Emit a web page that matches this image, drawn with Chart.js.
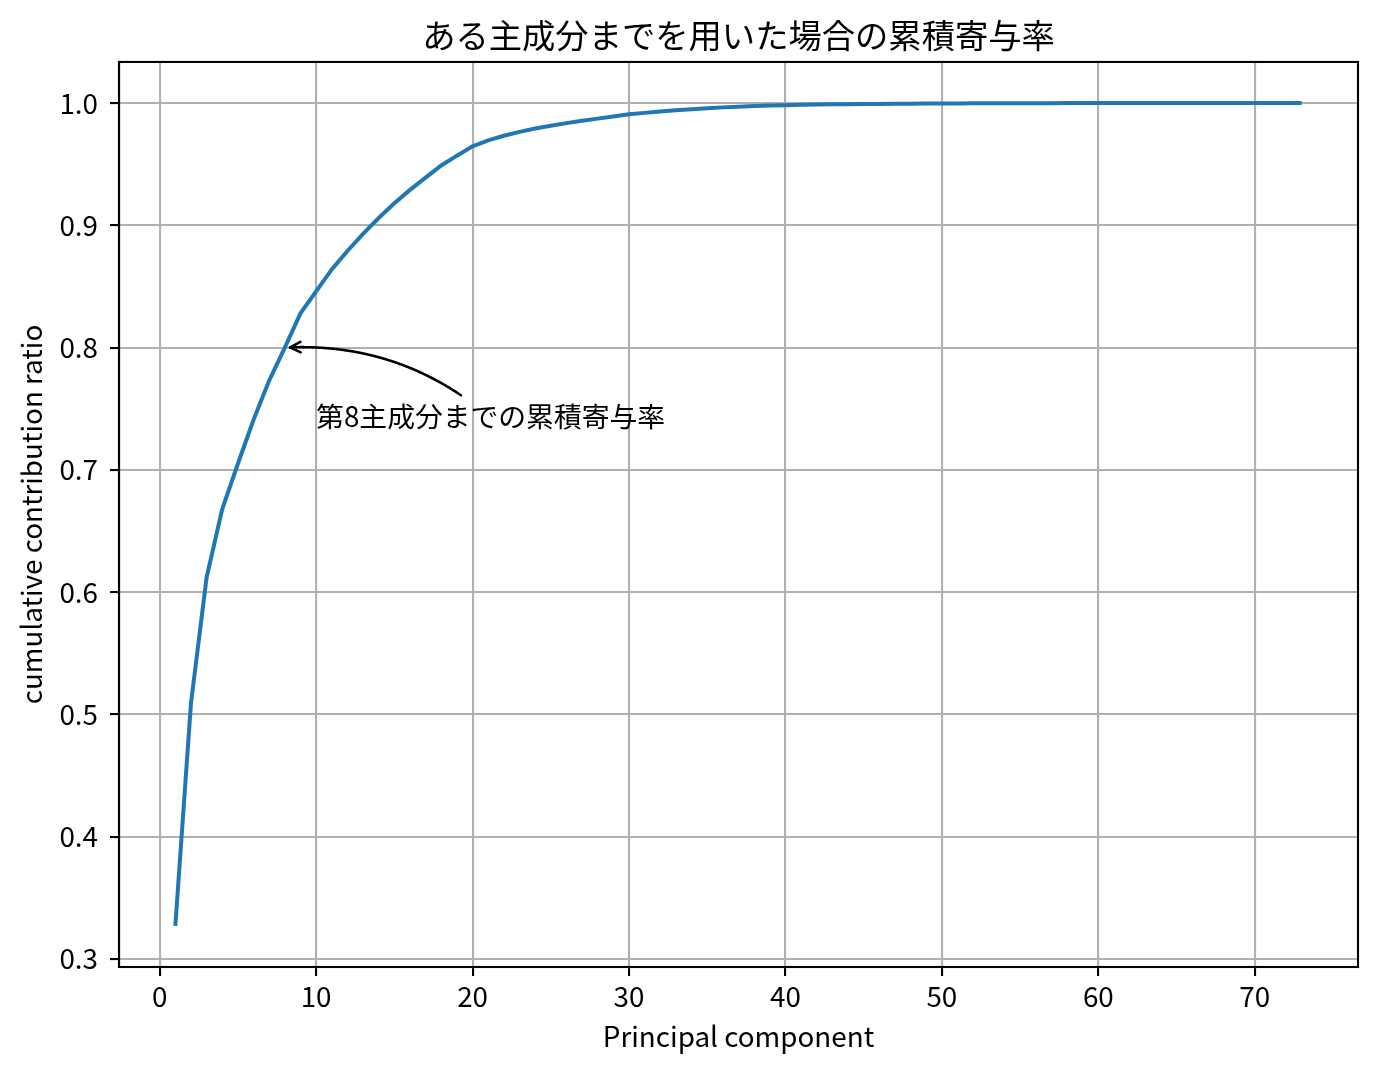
<!DOCTYPE html>
<html>
<head>
<meta charset="utf-8">
<script src="https://cdn.jsdelivr.net/npm/chart.js@4.4.1/dist/chart.umd.min.js"></script>
<style>
  html, body { margin: 0; padding: 0; background: #ffffff; }
  #c { display: block; }
</style>
</head>
<body>
<canvas id="c" width="1378" height="1071"></canvas>
<script>
// ---- data ----
const components = [
  1, 2, 3, 4, 5, 6, 7, 8, 9, 10,
  11, 12, 13, 14, 15, 16, 17, 18, 19, 20,
  21, 22, 23, 24, 25, 26, 27, 28, 29, 30,
  31, 32, 33, 34, 35, 36, 37, 38, 39, 40,
  41, 42, 43, 44, 45, 46, 47, 48, 49, 50,
  51, 52, 53, 54, 55, 56, 57, 58, 59, 60,
  61, 62, 63, 64, 65, 66, 67, 68, 69, 70,
  71, 72, 73
];
const cumulativeRatio = [
  0.327, 0.509, 0.612, 0.668, 0.705, 0.741, 0.773, 0.800, 0.828, 0.846,
  0.864, 0.879, 0.893, 0.906, 0.918, 0.929, 0.939, 0.949, 0.957, 0.9646,
  0.9695, 0.9733, 0.9765, 0.9792, 0.9815, 0.9836, 0.9855, 0.9873, 0.9891, 0.9908,
  0.9920, 0.9931, 0.9941, 0.9950, 0.9958, 0.9965, 0.9971, 0.9976, 0.9980, 0.9983,
  0.9986, 0.9988, 0.9990, 0.9991, 0.9992, 0.9993, 0.9994, 0.9995, 0.9996, 0.9997,
  0.9997, 0.9998, 0.9998, 0.9999, 0.9999, 0.9999, 0.99995, 1.0, 1.0, 1.0,
  1.0, 1.0, 1.0, 1.0, 1.0, 1.0, 1.0, 1.0, 1.0, 1.0,
  1.0, 1.0, 1.0
];
const xTicks = [0, 10, 20, 30, 40, 50, 60, 70];
const yTicks = [0.3, 0.4, 0.5, 0.6, 0.7, 0.8, 0.9, 1.0];
const titleText = 'ある主成分までを用いた場合の累積寄与率';
const xLabel = 'Principal component';
const yLabel = 'cumulative contribution ratio';
const annotationText = '第8主成分までの累積寄与率';
const annotationPoint = [8, 0.800];      // arrow target (component 8)
const annotationTextPos = [10, 0.735];   // text anchor (left, baseline)

// ---- styling ----
const FONT = '"Noto Sans CJK JP", "Noto Sans", sans-serif';
const TICK_SIZE = 27.8;
const TITLE_SIZE = 33.3;
const GRID = '#b0b0b0';
const LINE = '#1f77b4';

// matplotlib-like 5% margins around data
function padRange(arr, frac) {
  const lo = Math.min(...arr), hi = Math.max(...arr);
  const m = (hi - lo) * frac;
  return [lo - m, hi + m];
}
const [xMin, xMax] = padRange(components, 0.05);
const [yMin, yMax] = padRange(cumulativeRatio, 0.05);

const points = components.map((c, i) => ({ x: c, y: cumulativeRatio[i] }));

Chart.defaults.font.family = FONT;
Chart.defaults.color = '#000';

const framePlugin = {
  id: 'frameAndAnnotation',
  afterDatasetsDraw(chart) {
    const ctx = chart.ctx;
    const a = chart.chartArea;
    const xs = chart.scales.x, ys = chart.scales.y;
    ctx.save();
    // spines
    ctx.strokeStyle = '#000';
    ctx.lineWidth = 2.1;
    ctx.strokeRect(a.left, a.top, a.right - a.left, a.bottom - a.top);

    // annotation text
    ctx.font = TICK_SIZE + 'px ' + FONT;
    ctx.fillStyle = '#000';
    ctx.textAlign = 'left';
    ctx.textBaseline = 'alphabetic';
    const tx = xs.getPixelForValue(annotationTextPos[0]);
    const ty = ys.getPixelForValue(annotationTextPos[1]);
    const w = ctx.measureText(annotationText).width;
    ctx.fillText(annotationText, tx, ty);

    // text bbox (padded like matplotlib)
    const pad = 5;
    const bx0 = tx - pad, bx1 = tx + w + pad;
    const by0 = ty - 0.85 * TICK_SIZE - pad, by1 = ty + 0.2 * TICK_SIZE + pad;
    const p0 = [tx + w / 2, ty - 0.33 * TICK_SIZE];
    const p2 = [xs.getPixelForValue(annotationPoint[0]), ys.getPixelForValue(annotationPoint[1])];
    const rad = 0.2;
    const mx = (p0[0] + p2[0]) / 2, my = (p0[1] + p2[1]) / 2;
    const dx = p2[0] - p0[0], dy = p2[1] - p0[1];
    const p1 = [mx - rad * dy, my + rad * dx];
    const bez = t => [
      (1 - t) * (1 - t) * p0[0] + 2 * (1 - t) * t * p1[0] + t * t * p2[0],
      (1 - t) * (1 - t) * p0[1] + 2 * (1 - t) * t * p1[1] + t * t * p2[1]
    ];
    const N = 400;
    const pts = [];
    for (let i = 0; i <= N; i++) pts.push(bez(i / N));
    // clip at bbox
    let iStart = 0;
    while (iStart < N && pts[iStart][0] >= bx0 && pts[iStart][0] <= bx1 && pts[iStart][1] >= by0 && pts[iStart][1] <= by1) iStart++;
    // shrink A by 5px along path
    let acc = 0;
    while (iStart < N && acc < 5) {
      acc += Math.hypot(pts[iStart + 1][0] - pts[iStart][0], pts[iStart + 1][1] - pts[iStart][1]);
      iStart++;
    }
    // shrink B by 5px
    let iEnd = N; acc = 0;
    while (iEnd > iStart && acc < 5) {
      acc += Math.hypot(pts[iEnd][0] - pts[iEnd - 1][0], pts[iEnd][1] - pts[iEnd - 1][1]);
      iEnd--;
    }
    ctx.strokeStyle = '#000';
    ctx.lineWidth = 2.6;
    ctx.lineCap = 'round';
    ctx.lineJoin = 'round';
    ctx.beginPath();
    ctx.moveTo(pts[iStart][0], pts[iStart][1]);
    for (let i = iStart + 1; i <= iEnd; i++) ctx.lineTo(pts[i][0], pts[i][1]);
    ctx.stroke();
    // arrow head "->"
    const tip = pts[iEnd];
    const prev = pts[Math.max(iStart, iEnd - 8)];
    let ux = tip[0] - prev[0], uy = tip[1] - prev[1];
    const L = Math.hypot(ux, uy) || 1;
    ux /= L; uy /= L;
    const hl = 10.5, hw = 5.25;
    ctx.beginPath();
    ctx.moveTo(tip[0] - hl * ux - hw * uy, tip[1] - hl * uy + hw * ux);
    ctx.lineTo(tip[0], tip[1]);
    ctx.lineTo(tip[0] - hl * ux + hw * uy, tip[1] - hl * uy - hw * ux);
    ctx.stroke();
    ctx.restore();
  }
};

new Chart(document.getElementById('c'), {
  type: 'line',
  data: {
    datasets: [{
      data: points,
      borderColor: LINE,
      backgroundColor: LINE,
      borderWidth: 4,
      pointRadius: 0,
      tension: 0,
      fill: false,
      borderCapStyle: 'butt'
    }]
  },
  options: {
    responsive: false,
    animation: false,
    devicePixelRatio: 1,
    layout: { padding: { left: 0, right: 20, top: 0, bottom: 0 } },
    plugins: {
      legend: { display: false },
      tooltip: { enabled: false },
      title: {
        display: true,
        text: titleText,
        fullSize: false,
        color: '#000',
        font: { size: TITLE_SIZE, weight: 'normal', family: FONT },
        padding: { top: 15, bottom: 7 }
      }
    },
    scales: {
      x: {
        type: 'linear',
        min: xMin,
        max: xMax,
        afterBuildTicks: s => { s.ticks = xTicks.map(v => ({ value: v })); },
        afterFit: s => { s.height = 104; },
        ticks: {
          color: '#000',
          font: { size: TICK_SIZE, family: FONT },
          padding: 4,
          maxRotation: 0,
          autoSkip: false,
          callback: v => String(v)
        },
        grid: { color: GRID, lineWidth: 2.1, tickColor: '#000', tickLength: 9, tickWidth: 2.1 },
        border: { display: true, color: '#000', width: 2.1 },
        title: {
          display: true,
          text: xLabel,
          color: '#000',
          font: { size: TICK_SIZE, family: FONT },
          padding: { top: 0, bottom: 18 }
        }
      },
      y: {
        type: 'linear',
        min: yMin,
        max: yMax,
        afterBuildTicks: s => { s.ticks = yTicks.map(v => ({ value: v })); },
        afterFit: s => { s.width = 119; },
        ticks: {
          color: '#000',
          font: { size: TICK_SIZE, family: FONT },
          padding: 12,
          autoSkip: false,
          callback: v => Number(v).toFixed(1)
        },
        grid: { color: GRID, lineWidth: 2.1, tickColor: '#000', tickLength: 9, tickWidth: 2.1 },
        border: { display: true, color: '#000', width: 2.1 },
        title: {
          display: true,
          text: yLabel,
          color: '#000',
          font: { size: TICK_SIZE, family: FONT },
          padding: { top: 15, bottom: 0 }
        }
      }
    }
  },
  plugins: [framePlugin]
});
</script>
</body>
</html>
